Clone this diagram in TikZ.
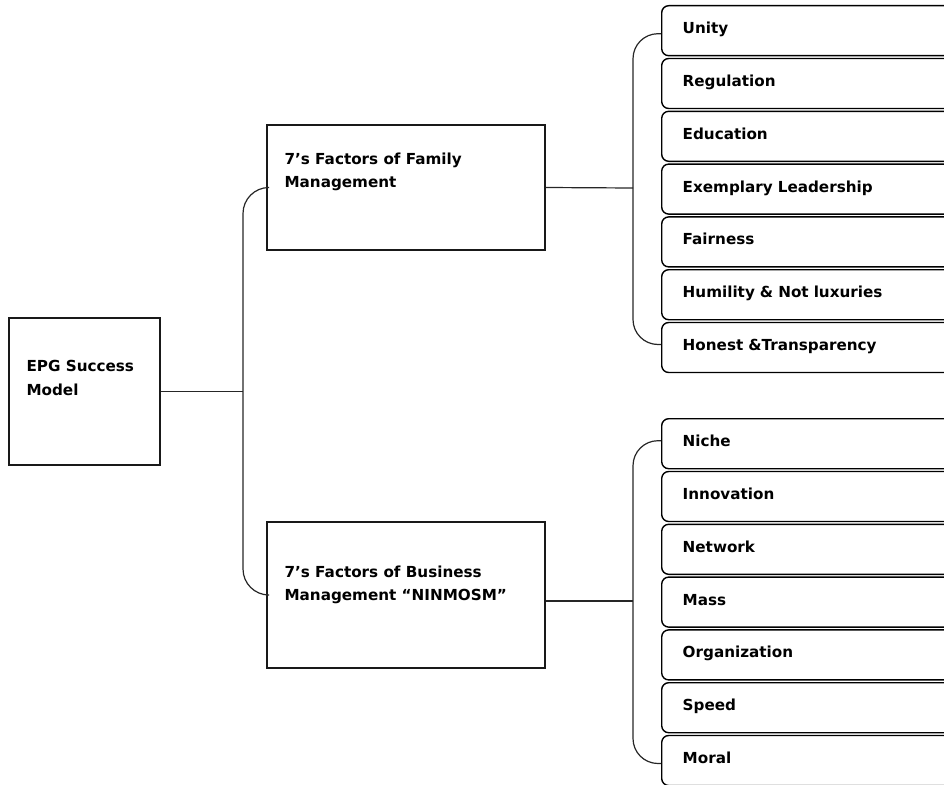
\documentclass[tikz,border=0pt]{standalone}
\usepackage{fontspec}
\setmainfont{DejaVu Sans}
\begin{document}
\begin{tikzpicture}[x=1pt,y=-1pt,
  every node/.style={font=\bfseries\fontsize{15.2}{23.5}\selectfont, text=black},
  sq/.style={draw=black!90, line width=1.3pt, inner sep=0pt},
  lbl/.style={anchor=north west, align=left, inner sep=0pt, draw=none},
  item/.style={draw=black, line width=1.4pt, rounded corners=7pt, anchor=north west,
    minimum width=320pt, minimum height=50pt, text width=278pt, inner xsep=21pt,
    align=left, text height=10pt, text depth=4pt},
  link/.style={draw=black!85, line width=1.2pt}
]
\useasboundingbox (0,0) rectangle (944,784);
\clip (0,0) rectangle (944,784);

\node[sq, minimum width=151pt, minimum height=147pt,
  label={[lbl, xshift=18pt, yshift=-43pt]north west:EPG Success\\Model}] (epg) at (84.5,391.5) {};
\node[sq, minimum width=278pt, minimum height=125pt,
  label={[lbl, xshift=18pt, yshift=-28pt]north west:7’s Factors of Family\\Management}] (fam) at (406,187.5) {};
\node[sq, minimum width=278pt, minimum height=146pt,
  label={[lbl, xshift=18pt, yshift=-44pt]north west:7’s Factors of Business\\Management “NINMOSM”}] (bus) at (406,595) {};

\coordinate (lj) at (243,391.5);
\coordinate (rj1) at (633,188);
\coordinate (rj2) at (633,601);

\draw[link] (epg.east) -- (lj);
\draw[link, rounded corners=26pt] (fam.west) -| (lj) |- (bus.west);
\draw[link] (fam.east) -- (rj1);
\draw[link] ([yshift=-6pt]bus.east) -- (rj2);

\foreach \t [count=\i from 0] in {Unity, Regulation, Education, Exemplary Leadership, Fairness, Humility \& Not luxuries, Honest \&Transparency}
  \node[item] (t\i) at (661, 5+\i*52.8) {\t};
\foreach \t [count=\i from 0] in {Niche, Innovation, Network, Mass, Organization, Speed, Moral}
  \node[item] (b\i) at (661, 418+\i*52.8) {\t};

\draw[link, rounded corners=25pt] ([yshift=-3pt]t0.west) -| (rj1) |- ([yshift=3pt]t6.west);
\draw[link, rounded corners=25pt] ([yshift=3pt]b0.west) -| (rj2) |- ([yshift=-3pt]b6.west);
\end{tikzpicture}
\end{document}
